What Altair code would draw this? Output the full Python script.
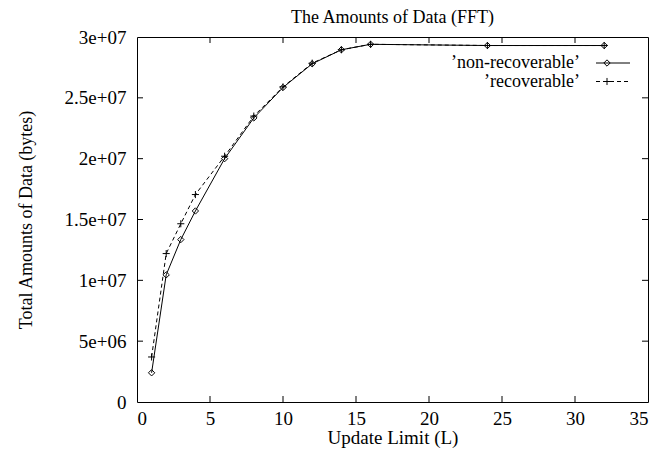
import altair as alt
import pandas as pd

# ---- data ----
x_vals = [1, 2, 3, 4, 6, 8, 10, 12, 14, 16, 24, 32]
non_recoverable = [2.4e6, 10.45e6, 13.35e6, 15.7e6, 20.0e6, 23.35e6, 25.85e6, 27.8e6, 28.95e6, 29.4e6, 29.3e6, 29.3e6]
recoverable = [3.7e6, 12.2e6, 14.65e6, 17.05e6, 20.2e6, 23.5e6, 25.9e6, 27.85e6, 28.95e6, 29.4e6, 29.3e6, 29.3e6]
series_names = ["\u2019non-recoverable\u2019", "\u2019recoverable\u2019"]
x_ticks = [0, 5, 10, 15, 20, 25, 30, 35]
y_ticks = [0, 5e6, 10e6, 15e6, 20e6, 25e6, 30e6]
y_tick_labels = ["0", "5e+06", "1e+07", "1.5e+07", "2e+07", "2.5e+07", "3e+07"]

W, H = 511, 365
FONT = "Liberation Serif"
FS = 19

df_nr = pd.DataFrame({"x": x_vals, "y": non_recoverable})
df_r = pd.DataFrame({"x": x_vals, "y": recoverable})

xs = alt.Scale(domain=[0, 35], nice=False, zero=False)
ys = alt.Scale(domain=[0, 3e7], nice=False)

label_arr = "[" + ",".join("'%s'" % s for s in y_tick_labels) + "]"

X = alt.X("x:Q", scale=xs, axis=alt.Axis(values=x_ticks, title="Update Limit (L)", grid=False,
                                           domain=False, ticks=False, labelPadding=7,
                                           titlePadding=0, labelFont=FONT, titleFont=FONT,
                                           labelFontSize=FS, titleFontSize=FS,
                                           labelColor="black", titleColor="black",
                                           titleFontWeight="normal"))
Y = alt.Y("y:Q", scale=ys, axis=alt.Axis(values=y_ticks, title="Total Amounts of Data (bytes)",
                                           grid=False, domain=False, ticks=False, labelPadding=11,
                                           labelExpr=label_arr + "[round(datum.value/5000000)]",
                                           labelFont=FONT, titleFont=FONT, labelFontSize=FS,
                                           titleFontSize=18, labelColor="black", titleColor="black",
                                           titleFontWeight="normal", titlePadding=29))

plus_path = "M-1,0L1,0M0,-1L0,1"

line_nr = alt.Chart(df_nr).mark_line(color="black", strokeWidth=1).encode(x=X, y=Y)
pts_nr = alt.Chart(df_nr).mark_point(shape="diamond", size=40, color="black", filled=False,
                                      strokeWidth=1, opacity=1).encode(x="x:Q", y="y:Q")
line_r = alt.Chart(df_r).mark_line(color="black", strokeWidth=1, strokeDash=[4, 3]).encode(x="x:Q", y="y:Q")
pts_r = alt.Chart(df_r).mark_point(shape=plus_path, size=50, color="black", filled=False,
                                    strokeWidth=1, opacity=1).encode(x="x:Q", y="y:Q")

# inward ticks (gnuplot style, mirrored on all sides)
xt = pd.DataFrame({"x": x_ticks[1:-1]})
yt = pd.DataFrame({"y": y_ticks[1:-1]})
tick_b = alt.Chart(xt).mark_rule(color="black", strokeWidth=1).encode(x="x:Q", y=alt.value(H), y2=alt.value(H - 6))
tick_t = alt.Chart(xt).mark_rule(color="black", strokeWidth=1).encode(x="x:Q", y=alt.value(0), y2=alt.value(6))
tick_l = alt.Chart(yt).mark_rule(color="black", strokeWidth=1).encode(y="y:Q", x=alt.value(0), x2=alt.value(6))
tick_r = alt.Chart(yt).mark_rule(color="black", strokeWidth=1).encode(y="y:Q", x=alt.value(W), x2=alt.value(W - 6))

# legend (inside, top right)
leg_df = pd.DataFrame({"label": series_names})
TX, L0, L1, PX = 443, 459, 493, 470
R0, R1 = 26, 44.5
LFS = 18
leg_nr_text = alt.Chart(leg_df.iloc[[0]]).mark_text(align="right", baseline="middle", font=FONT,
                                                    fontSize=LFS, color="black").encode(
    text="label:N", x=alt.value(TX), y=alt.value(R0))
leg_r_text = alt.Chart(leg_df.iloc[[1]]).mark_text(align="right", baseline="middle", font=FONT,
                                                   fontSize=LFS, color="black").encode(
    text="label:N", x=alt.value(TX), y=alt.value(R1))
leg_nr_line = alt.Chart(leg_df.iloc[[0]]).mark_rule(color="black", strokeWidth=1).encode(
    x=alt.value(L0), x2=alt.value(L1), y=alt.value(R0))
leg_r_line = alt.Chart(leg_df.iloc[[1]]).mark_rule(color="black", strokeWidth=1, strokeDash=[4, 3]).encode(
    x=alt.value(L0), x2=alt.value(L1), y=alt.value(R1))
leg_nr_pt = alt.Chart(leg_df.iloc[[0]]).mark_point(shape="diamond", size=40, color="black", filled=False,
                                                   strokeWidth=1, opacity=1).encode(
    x=alt.value(PX), y=alt.value(R0))
leg_r_pt = alt.Chart(leg_df.iloc[[1]]).mark_point(shape=plus_path, size=50, color="black", filled=False,
                                                  strokeWidth=1, opacity=1).encode(
    x=alt.value(PX), y=alt.value(R1))

chart = alt.layer(
    line_nr, line_r, pts_nr, pts_r, tick_b, tick_t, tick_l, tick_r,
    leg_nr_text, leg_r_text, leg_nr_line, leg_r_line, leg_nr_pt, leg_r_pt
).properties(
    width=W, height=H,
    title=alt.TitleParams("The Amounts of Data (FFT)", font=FONT, fontSize=18, fontWeight="normal",
                          color="black", anchor="middle", offset=1),
    autosize=alt.AutoSizeParams(type="none"),
    padding={"left": 129, "top": 29, "right": 3, "bottom": 50},
    background="white",
).configure_view(stroke="black", strokeWidth=1)

chart.save("out.html", embed_options={"renderer": "svg", "actions": False})
